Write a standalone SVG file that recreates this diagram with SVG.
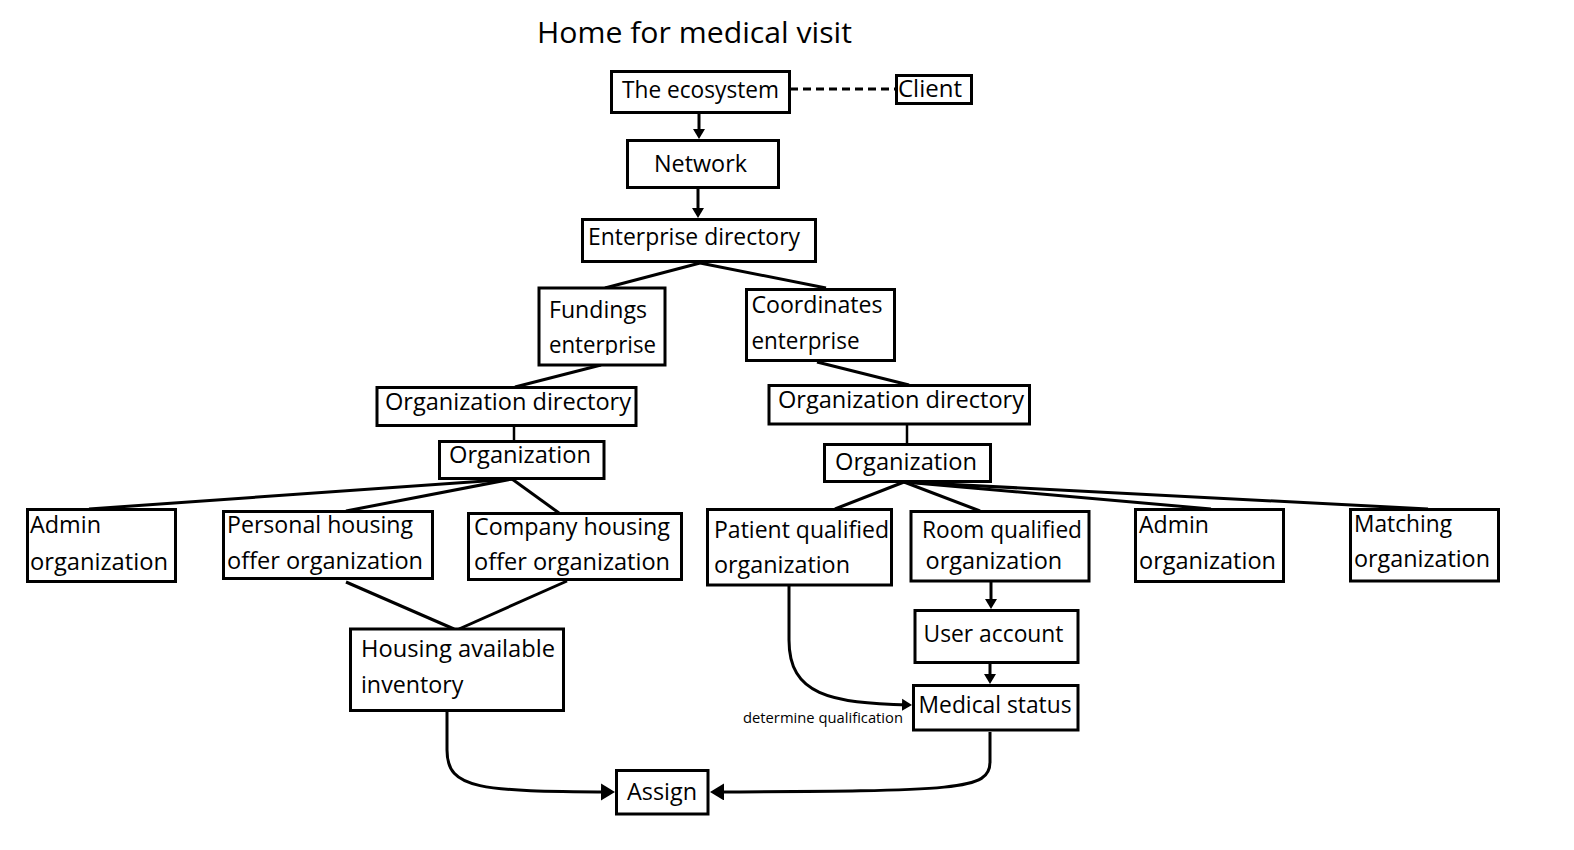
<svg xmlns="http://www.w3.org/2000/svg" width="1574" height="850" viewBox="0 0 1574 850">
<style>
  .box { fill: #fff; stroke: #000; stroke-width: 3; }
  .t { font-family: "Open Sans", "Noto Sans", sans-serif; font-size: 23.5px; fill: #000; }
  .title { font-family: "Open Sans", "Noto Sans", sans-serif; font-size: 30px; fill: #000; }
  .lbl { font-family: "Open Sans", "Noto Sans", sans-serif; font-size: 15px; fill: #000; }
  .c { fill: none; stroke: #000; stroke-width: 3; }
  .cs { fill: none; stroke: #000; stroke-width: 2.5; }
</style>
<defs>
  <marker id="ah" markerUnits="userSpaceOnUse" markerWidth="12" markerHeight="14" refX="7" refY="6.5" orient="auto">
    <path d="M0,0.5 L10,6.5 L0,12.5 z" fill="#000"/>
  </marker>
  <marker id="ahL" markerUnits="userSpaceOnUse" markerWidth="16" markerHeight="18" refX="11" refY="8.5" orient="auto">
    <path d="M0,0 L14,8.5 L0,17 z" fill="#000"/>
  </marker>
  <clipPath id="clipF"><rect x="537" y="288" width="131" height="67"/></clipPath>
</defs>
<rect width="1574" height="850" fill="#fff"/>
<text class="title" x="537" y="43" textLength="315" lengthAdjust="spacingAndGlyphs">Home for medical visit</text>

<g id="connectors">
  <path class="c" d="M790,89 H895" stroke-dasharray="8,5"/>
  <path class="c" d="M699,112 V136" marker-end="url(#ah)"/>
  <path class="c" d="M698,189 V215" marker-end="url(#ah)"/>
  <path class="c" d="M700,263 L605,288"/>
  <path class="c" d="M700,263 L826,288"/>
  <path class="c" d="M601,365 L515,387"/>
  <path class="c" d="M817,362 L909,385"/>
  <path class="cs" d="M514,426 V441"/>
  <path class="cs" d="M907,425 V444"/>
  <path class="c" d="M512,479 L89,509"/>
  <path class="c" d="M512,479 L346,511"/>
  <path class="c" d="M512,479 L559,513"/>
  <path class="c" d="M904,482 L835,509"/>
  <path class="c" d="M904,482 L980,511"/>
  <path class="c" d="M904,482 L1211,509"/>
  <path class="c" d="M904,482 L1428,509"/>
  <path class="c" d="M346,582 L454,629"/>
  <path class="c" d="M567,581 L459,629"/>
  <path class="c" d="M991,582 V606" marker-end="url(#ah)"/>
  <path class="c" d="M990,664 V681" marker-end="url(#ah)"/>
  <path class="c" d="M789,586 V640 C789,695 830,703 909,705" marker-end="url(#ah)"/>
  <path class="c" d="M447,712 V750 C447,790 480,791 612,792" marker-end="url(#ahL)"/>
  <path class="c" d="M990,732 V762 C990,790 960,791 713,792" marker-end="url(#ahL)"/>
  <text class="lbl" x="743" y="723" textLength="160" lengthAdjust="spacingAndGlyphs">determine qualification</text>
</g>

<g id="ecosystem"><rect class="box" x="611.5" y="71.5" width="178" height="41"/><text class="t" x="622" y="98" textLength="157" lengthAdjust="spacingAndGlyphs">The ecosystem</text></g>
<g id="client"><rect class="box" x="896.5" y="75.5" width="75" height="28"/><text class="t" x="898" y="97" textLength="64" lengthAdjust="spacingAndGlyphs">Client</text></g>
<g id="network"><rect class="box" x="627.5" y="140.5" width="151" height="47"/><text class="t" x="654" y="172" textLength="93" lengthAdjust="spacingAndGlyphs">Network</text></g>
<g id="enterprise-directory"><rect class="box" x="582.5" y="219.5" width="233" height="42"/><text class="t" x="588" y="245" textLength="212" lengthAdjust="spacingAndGlyphs">Enterprise directory</text></g>
<g id="fundings"><rect class="box" x="539" y="288" width="126" height="77"/><g clip-path="url(#clipF)"><text class="t" x="549" y="318" textLength="98" lengthAdjust="spacingAndGlyphs">Fundings</text><text class="t" x="549" y="353" textLength="107" lengthAdjust="spacingAndGlyphs">enterprise</text></g></g>
<g id="coordinates"><rect class="box" x="746.5" y="289.5" width="148" height="71"/><text class="t" x="751.5" y="313" textLength="131" lengthAdjust="spacingAndGlyphs">Coordinates</text><text class="t" x="751.5" y="349" textLength="108" lengthAdjust="spacingAndGlyphs">enterprise</text></g>
<g id="org-dir-left"><rect class="box" x="377" y="387.5" width="259" height="38"/><text class="t" x="385" y="410" textLength="246" lengthAdjust="spacingAndGlyphs">Organization directory</text></g>
<g id="org-left"><rect class="box" x="439.5" y="441.5" width="164.5" height="37"/><text class="t" x="449" y="463" textLength="142" lengthAdjust="spacingAndGlyphs">Organization</text></g>
<g id="org-dir-right"><rect class="box" x="769" y="385.5" width="260.5" height="38.5"/><text class="t" x="778" y="408" textLength="246" lengthAdjust="spacingAndGlyphs">Organization directory</text></g>
<g id="org-right"><rect class="box" x="824.5" y="444.5" width="166" height="37"/><text class="t" x="835" y="470" textLength="142" lengthAdjust="spacingAndGlyphs">Organization</text></g>
<g id="admin-left"><rect class="box" x="27.5" y="509.5" width="148" height="72"/><text class="t" x="30" y="533" textLength="71" lengthAdjust="spacingAndGlyphs">Admin</text><text class="t" x="30" y="570" textLength="138" lengthAdjust="spacingAndGlyphs">organization</text></g>
<g id="personal-housing"><rect class="box" x="223.5" y="511.5" width="209" height="67"/><text class="t" x="227" y="533" textLength="186" lengthAdjust="spacingAndGlyphs">Personal housing</text><text class="t" x="227" y="569" textLength="196" lengthAdjust="spacingAndGlyphs">offer organization</text></g>
<g id="company-housing"><rect class="box" x="468.5" y="513.5" width="213" height="66"/><text class="t" x="474" y="535" textLength="196" lengthAdjust="spacingAndGlyphs">Company housing</text><text class="t" x="474" y="570" textLength="196" lengthAdjust="spacingAndGlyphs">offer organization</text></g>
<g id="patient-qualified"><rect class="box" x="707.5" y="509.5" width="184" height="75.5"/><text class="t" x="714" y="538" textLength="175" lengthAdjust="spacingAndGlyphs">Patient qualified</text><text class="t" x="714" y="573" textLength="136" lengthAdjust="spacingAndGlyphs">organization</text></g>
<g id="room-qualified"><rect class="box" x="911" y="511.5" width="178" height="69.5"/><text class="t" x="922" y="538" textLength="160" lengthAdjust="spacingAndGlyphs">Room qualified</text><text class="t" x="925.6" y="569" textLength="136.6" lengthAdjust="spacingAndGlyphs">organization</text></g>
<g id="admin-right"><rect class="box" x="1135.5" y="509.5" width="148" height="72"/><text class="t" x="1139" y="533" textLength="70" lengthAdjust="spacingAndGlyphs">Admin</text><text class="t" x="1139" y="569" textLength="137" lengthAdjust="spacingAndGlyphs">organization</text></g>
<g id="matching"><rect class="box" x="1350.5" y="509.5" width="148" height="71.5"/><text class="t" x="1354" y="532" textLength="98" lengthAdjust="spacingAndGlyphs">Matching</text><text class="t" x="1354" y="567" textLength="136" lengthAdjust="spacingAndGlyphs">organization</text></g>
<g id="housing-inventory"><rect class="box" x="350.5" y="629" width="213" height="81.5"/><text class="t" x="361" y="657" textLength="194" lengthAdjust="spacingAndGlyphs">Housing available</text><text class="t" x="361" y="693" textLength="102.5" lengthAdjust="spacingAndGlyphs">inventory</text></g>
<g id="user-account"><rect class="box" x="915" y="610.5" width="163" height="52"/><text class="t" x="923.5" y="642" textLength="140" lengthAdjust="spacingAndGlyphs">User account</text></g>
<g id="medical-status"><rect class="box" x="913.5" y="685.5" width="164.5" height="44.5"/><text class="t" x="918.6" y="713" textLength="153" lengthAdjust="spacingAndGlyphs">Medical status</text></g>
<g id="assign"><rect class="box" x="616.5" y="770.5" width="91.5" height="43.5"/><text class="t" x="627" y="800" textLength="70" lengthAdjust="spacingAndGlyphs">Assign</text></g>
</svg>
